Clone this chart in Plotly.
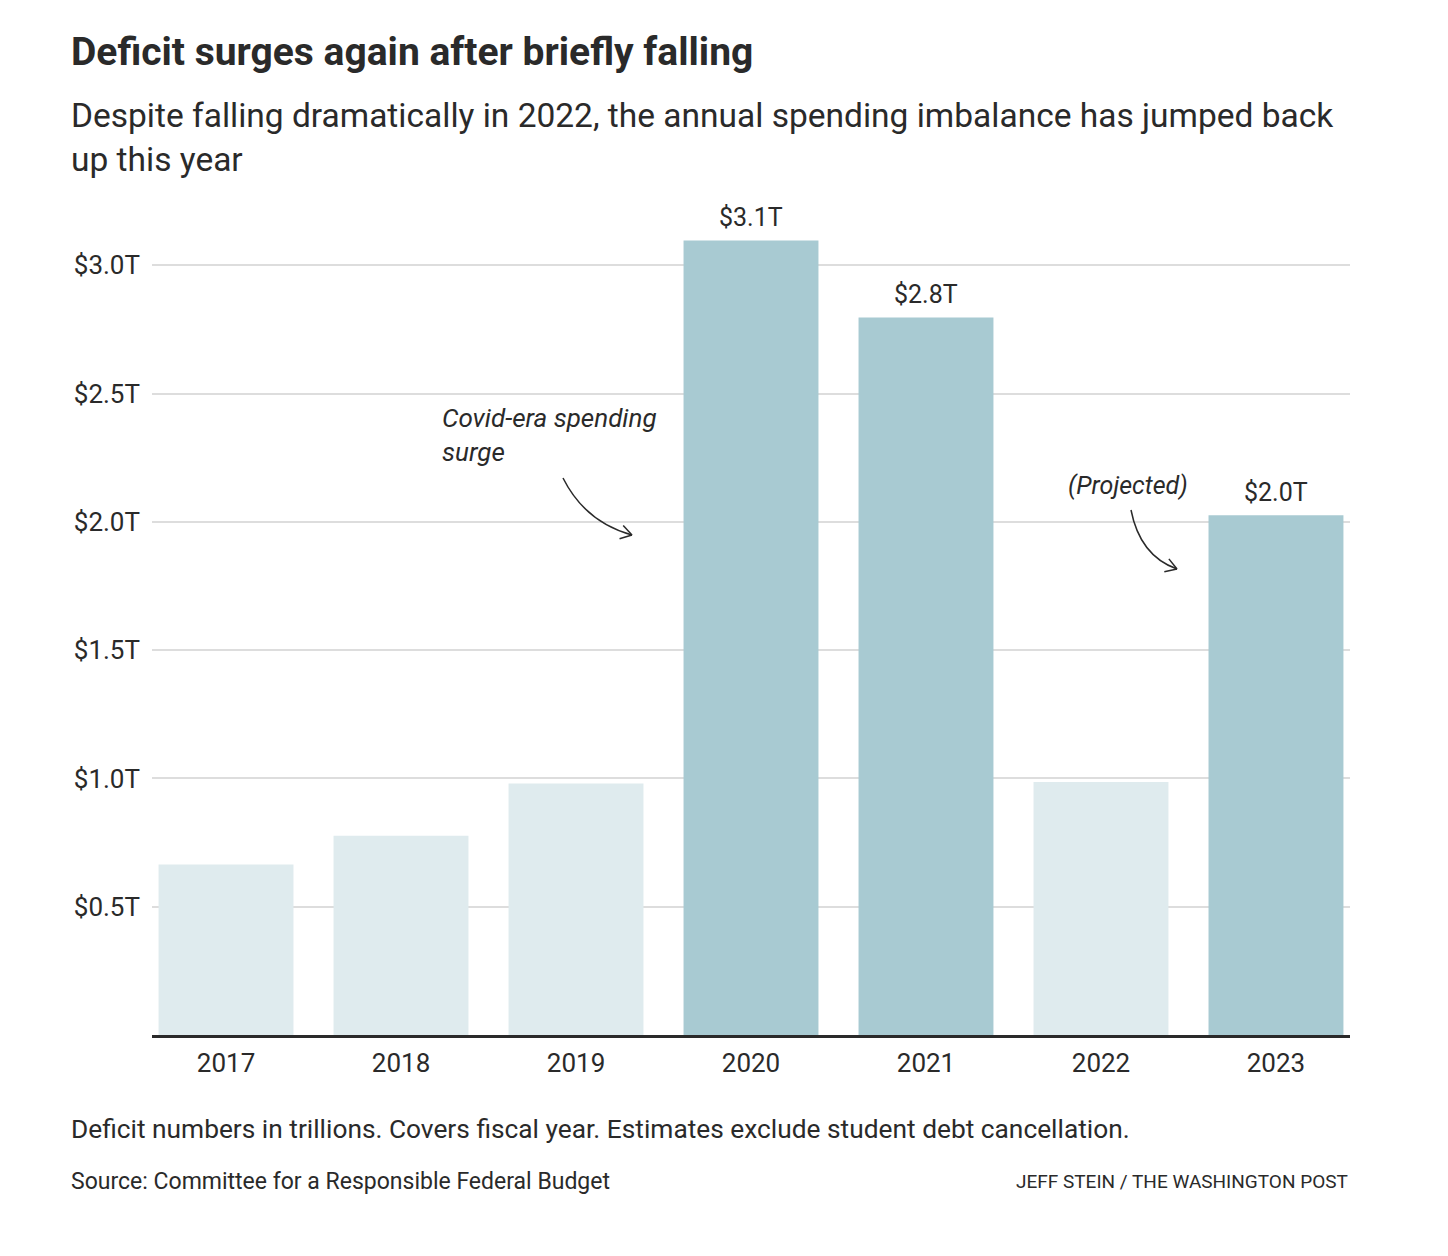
import math
import plotly.graph_objects as go

years = ["2017", "2018", "2019", "2020", "2021", "2022", "2023"]
deficits = [0.665, 0.777, 0.980, 3.097, 2.797, 0.986, 2.026]
highlight = [False, False, False, True, True, False, True]
labeled = [False, False, False, True, True, False, True]
tick_vals = [0.5, 1.0, 1.5, 2.0, 2.5, 3.0]
tick_text = ["$0.5T", "$1.0T", "$1.5T", "$2.0T", "$2.5T", "$3.0T"]

DARK = "#a8cad2"
LIGHT = "#dfebee"
TXT = "#2a2a2a"
FONT = "Roboto"

W, H = 1448, 1256
OFF = 8  # page body margin
# plot area in page coordinates
PL, PR, PT, PB = 152, 1350, 214, 1035
L, R, T, B = PL - OFF, W - (PR - OFF), PT - OFF, H - (PB - OFF)
PW, PH = PR - PL, PB - PT


def px2paper(px, py):
    return (px - PL) / PW, (PB - py) / PH


fig = go.Figure()
fig.add_trace(go.Bar(
    x=years, y=deficits,
    marker=dict(color=[DARK if h else LIGHT for h in highlight], line=dict(width=0)),
    hoverinfo="skip",
))

annotations = []
for i, (v, lab) in enumerate(zip(deficits, labeled)):
    if lab:
        annotations.append(dict(x=i, y=v, xref="x", yref="y", text=f"${v:.1f}T",
                                showarrow=False, yanchor="bottom", yshift=6,
                                font=dict(family=FONT, size=25, color=TXT)))


def page_text(text, x, y, size, xanchor="left"):
    xp, yp = px2paper(x, y)
    annotations.append(dict(text=text, x=xp, y=yp, xref="paper", yref="paper",
                            showarrow=False, xanchor=xanchor, yanchor="middle",
                            align="left", font=dict(family=FONT, size=size, color=TXT)))


page_text("<b>Deficit surges again after briefly falling</b>", 69, 52, 39)
page_text("Despite falling dramatically in 2022, the annual spending imbalance has jumped back<br>up this year",
          69, 137, 33.5)
page_text("Deficit numbers in trillions. Covers fiscal year. Estimates exclude student debt cancellation.",
          69, 1129, 26.3)
page_text("Source: Committee for a Responsible Federal Budget", 69, 1181, 23)
page_text("JEFF STEIN / THE WASHINGTON POST", 1350, 1181, 19, xanchor="right")
page_text("<i>Covid-era spending<br>surge</i>", 440, 435, 26)
page_text("<i>(Projected)</i>", 1066, 485, 25)

shapes = []


def curved_arrow(p0, c, p1):
    x0, y0 = px2paper(*p0)
    cx, cy = px2paper(*c)
    x1, y1 = px2paper(*p1)
    shapes.append(dict(type="path", xref="paper", yref="paper",
                       path=f"M {x0},{y0} Q {cx},{cy} {x1},{y1}",
                       line=dict(color=TXT, width=1.5)))
    ang = math.atan2(p1[1] - c[1], p1[0] - c[0])
    for s in (1, -1):
        a2 = ang + math.pi + s * math.radians(32)
        hx, hy = px2paper(p1[0] + 13 * math.cos(a2), p1[1] + 13 * math.sin(a2))
        shapes.append(dict(type="line", xref="paper", yref="paper",
                           x0=x1, y0=y1, x1=hx, y1=hy, line=dict(color=TXT, width=1.5)))


curved_arrow((563, 478), (585, 522), (632, 535))
curved_arrow((1131, 510), (1140, 556), (1177, 569))

fig.update_layout(
    width=W, height=H,
    margin=dict(l=L, r=R, t=T, b=B, pad=0),
    paper_bgcolor="white", plot_bgcolor="white",
    bargap=0.229,
    showlegend=False,
    font=dict(family=FONT, color=TXT),
    annotations=annotations,
    shapes=shapes,
    xaxis=dict(type="category", range=[-0.423, 6.423], showgrid=False,
               showline=True, linecolor="#2a2a2a", linewidth=2.5,
               ticks="", tickfont=dict(family=FONT, size=26, color=TXT),
               ticklabelstandoff=3, fixedrange=True),
    yaxis=dict(range=[0, 3.2], tickvals=tick_vals, ticktext=tick_text,
               showgrid=True, gridcolor="#dddddd", gridwidth=1.5,
               zeroline=False, showline=False, ticks="",
               tickfont=dict(family=FONT, size=26, color=TXT),
               ticklabelstandoff=11, fixedrange=True),
)

fig.write_html("out.html")
